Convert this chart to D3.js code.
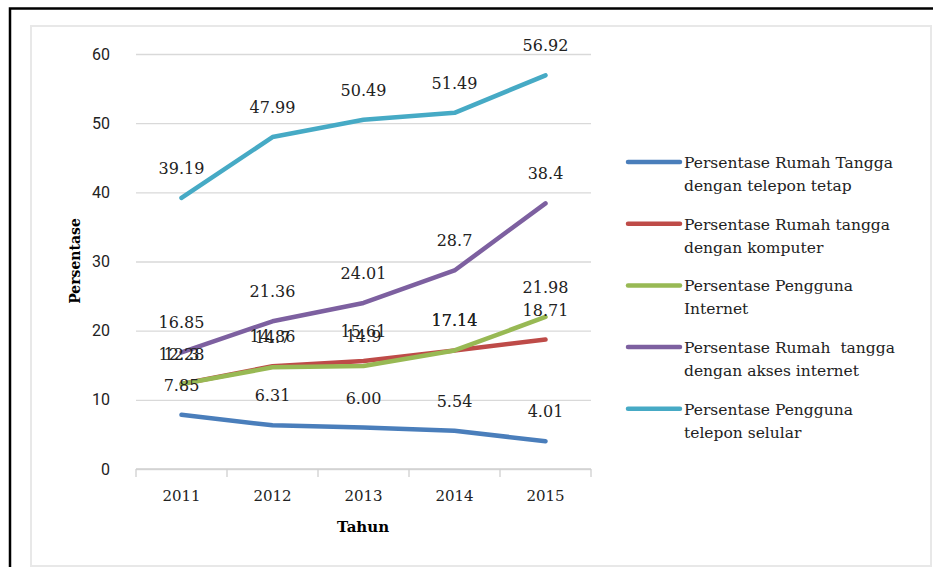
<!DOCTYPE html>
<html>
<head>
<meta charset="utf-8">
<script src="https://cdn.jsdelivr.net/npm/d3@7"></script>
<style>
  body { margin: 0; background: #fff; }
  svg { display: block; }
</style>
</head>
<body>
<div id="chart"></div>
<script>
// data
const years = ['2011', '2012', '2013', '2014', '2015'];
const telpTetap = ['7.85', '6.31', '6.00', '5.54', '4.01'];
const komputer = ['12.3', '14.86', '15.61', '17.14', '18.71'];
const internet = ['12.28', '14.7', '14.9', '17.14', '21.98'];
const aksesInternet = ['16.85', '21.36', '24.01', '28.7', '38.4'];
const selular = ['39.19', '47.99', '50.49', '51.49', '56.92'];
const yTicks = [0, 10, 20, 30, 40, 50, 60];

const series = [
  { name: ['Persentase Rumah Tangga', 'dengan telepon tetap'], values: telpTetap, color: '#4a7ebb' },
  { name: ['Persentase Rumah tangga', 'dengan komputer'], values: komputer, color: '#be4b48' },
  { name: ['Persentase Pengguna', 'Internet'], values: internet, color: '#98b954' },
  { name: ['Persentase Rumah  tangga', 'dengan akses internet'], values: aksesInternet, color: '#7d60a0' },
  { name: ['Persentase Pengguna', 'telepon selular'], values: selular, color: '#46aac5' }
];

const W = 933, H = 567;
const svg = d3.select('#chart').append('svg')
  .attr('width', W)
  .attr('height', H);

// frames
svg.append('rect')
  .attr('x', 31).attr('y', 26).attr('width', 900).attr('height', 540)
  .attr('fill', 'none').attr('stroke', '#e8e8e8').attr('stroke-width', 2);
svg.append('path')
  .attr('d', 'M10,' + H + 'V8.5H' + W)
  .attr('fill', 'none').attr('stroke', '#000').attr('stroke-width', 2.5);

const x = d3.scaleBand().domain(years).range([136, 591]);
const y = d3.scaleLinear().domain([0, 60]).range([469, 54]);

// gridlines + y labels
const yAxis = svg.append('g')
  .attr('transform', 'translate(136,0)')
  .call(d3.axisLeft(y).tickValues(yTicks).tickSize(-(591 - 136)).tickPadding(26));
yAxis.select('.domain').remove();
yAxis.selectAll('line').attr('stroke', '#d9d9d9').attr('stroke-width', 1.3);
yAxis.selectAll('text')
  .attr('font-family', 'Roboto, sans-serif')
  .attr('font-size', 16)
  .attr('fill', '#222');

// x axis: ticks at band edges
const xAxis = svg.append('g');
xAxis.append('line')
  .attr('x1', 136).attr('x2', 591).attr('y1', y(0)).attr('y2', y(0))
  .attr('stroke', '#d0d0d0').attr('stroke-width', 1.3);
const edges = years.map(d => x(d)).concat([x.range()[1]]);
xAxis.selectAll('.tk').data(edges).enter().append('line')
  .attr('x1', d => d).attr('x2', d => d)
  .attr('y1', y(0)).attr('y2', y(0) + 8)
  .attr('stroke', '#d0d0d0').attr('stroke-width', 1.3);
xAxis.selectAll('.yl').data(years).enter().append('text')
  .attr('x', d => x(d) + x.bandwidth() / 2)
  .attr('y', 501)
  .attr('text-anchor', 'middle')
  .attr('font-family', 'DejaVu Serif, serif')
  .attr('font-size', 15)
  .attr('fill', '#222')
  .text(d => d);

// axis titles
svg.append('text')
  .attr('x', 363).attr('y', 532)
  .attr('text-anchor', 'middle')
  .attr('font-family', 'DejaVu Serif, serif')
  .attr('font-weight', 'bold')
  .attr('font-size', 15)
  .text('Tahun');
svg.append('text')
  .attr('transform', 'translate(80,261) rotate(-90)')
  .attr('text-anchor', 'middle')
  .attr('font-family', 'DejaVu Serif, serif')
  .attr('font-weight', 'bold')
  .attr('font-size', 14)
  .text('Persentase');

// lines
const line = d3.line()
  .x((d, i) => x(years[i]) + x.bandwidth() / 2)
  .y(d => y(+d));

svg.selectAll('.series').data(series).enter().append('path')
  .attr('d', d => line(d.values))
  .attr('fill', 'none')
  .attr('stroke', d => d.color)
  .attr('stroke-width', 4.5)
  .attr('stroke-linejoin', 'round')
  .attr('stroke-linecap', 'round');

// data labels
series.forEach(s => {
  svg.append('g').selectAll('text').data(s.values).enter().append('text')
    .attr('x', (d, i) => x(years[i]) + x.bandwidth() / 2)
    .attr('y', d => y(+d) - 24)
    .attr('text-anchor', 'middle')
    .attr('font-family', 'DejaVu Serif, serif')
    .attr('font-size', 16)
    .attr('fill', '#222')
    .text(d => d);
});

// legend
const legend = svg.append('g').attr('transform', 'translate(628,162)');
const item = legend.selectAll('g').data(series).enter().append('g')
  .attr('transform', (d, i) => 'translate(0,' + (i * 61.7) + ')');
item.append('line')
  .attr('x1', 0).attr('x2', 52).attr('y1', 0).attr('y2', 0)
  .attr('stroke', d => d.color)
  .attr('stroke-width', 4.5)
  .attr('stroke-linecap', 'round');
item.append('text')
  .attr('font-family', 'DejaVu Serif, serif')
  .attr('font-size', 15.5)
  .attr('fill', '#222')
  .selectAll('tspan').data(d => d.name).enter().append('tspan')
  .attr('x', 56)
  .attr('y', (d, i) => 6 + i * 23)
  .style('white-space', 'pre')
  .text(d => d);
</script>
</body>
</html>
